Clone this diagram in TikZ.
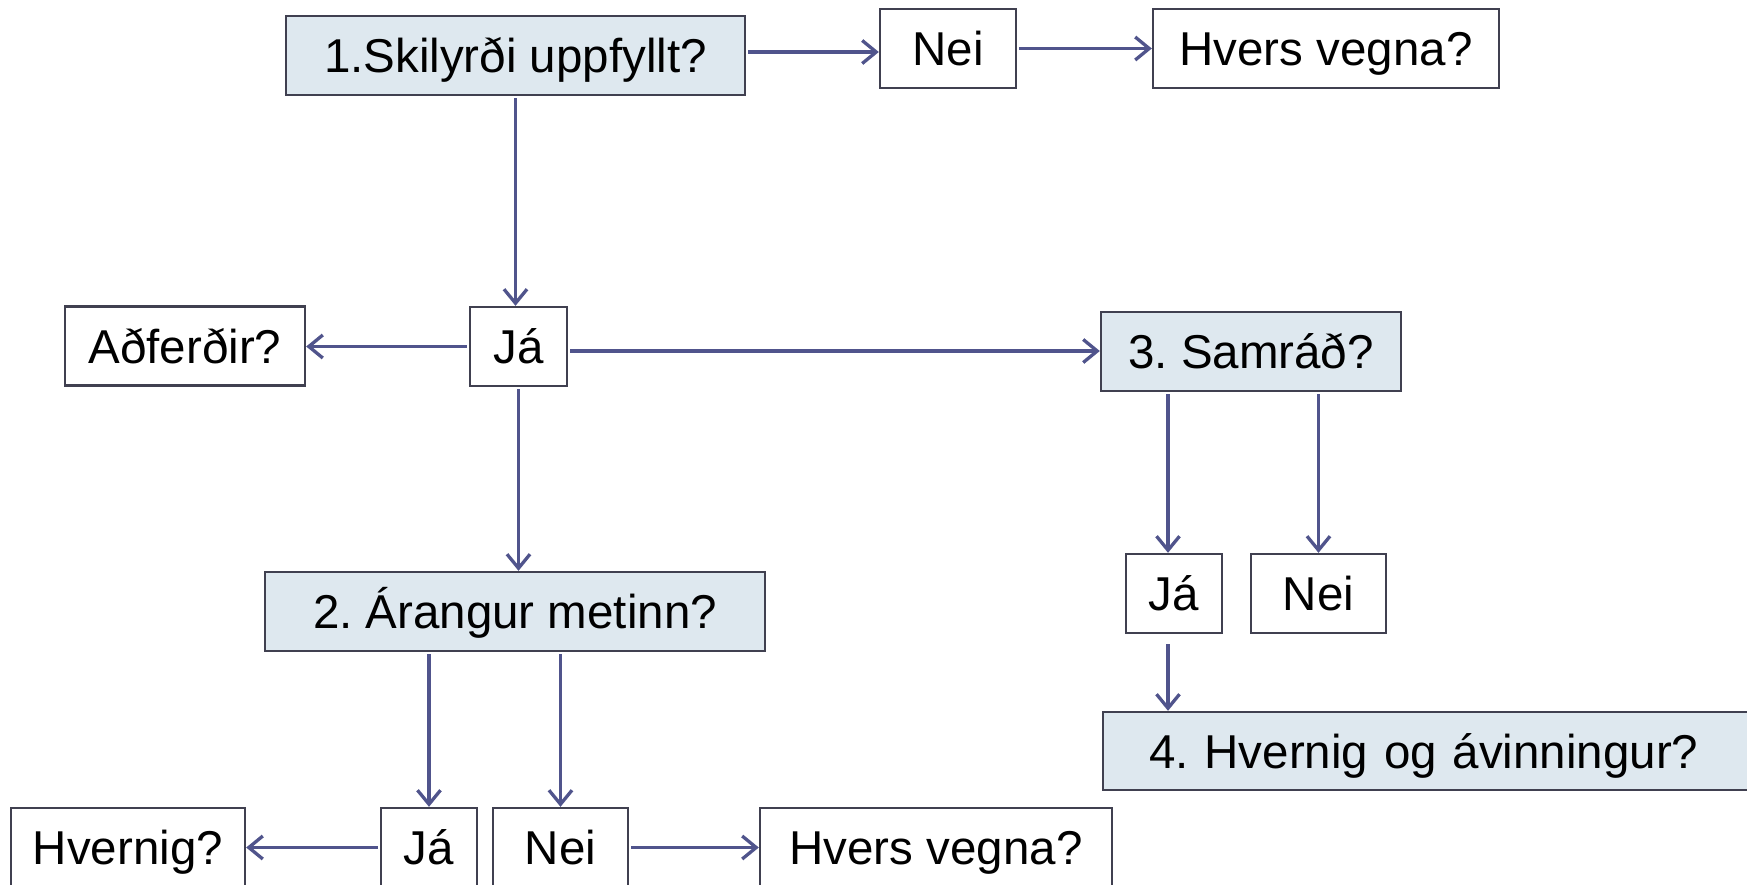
\documentclass[tikz,border=0pt]{standalone}
\usepackage{fontspec}
\setmainfont{Liberation Sans}
\usetikzlibrary{arrows.meta,calc}
\definecolor{boxfill}{RGB}{222,232,239}
\definecolor{boxline}{RGB}{64,64,80}
\definecolor{arrc}{RGB}{80,84,140}
\frenchspacing
\begin{document}
\begin{tikzpicture}[x=1pt,y=-1pt,
  plainbox/.style={draw=boxline,line width=2.4pt,fill=white,inner sep=0pt,
    minimum height=79pt,text height=34pt,text depth=0pt,
    font=\fontsize{47.5}{57}\selectfont\frenchspacing,text=black},
  fillbox/.style={plainbox,fill=boxfill},
  arr/.style={draw=arrc,line width=3.3pt,-{Straight Barb[length=14pt,width=23pt]},shorten <=2pt}]
\useasboundingbox (0,0) rectangle (1747,884);
\clip (0,0) rectangle (1747,884);
\fill[white] (0,0) rectangle (1747,884);
% row 1
\node[fillbox,minimum width=459pt] (s1) at (515.5,55.5) {1.Skilyrði uppfyllt?};
\node[plainbox,minimum width=136pt] (nei1) at (948,48.5) {Nei};
\node[plainbox,minimum width=346pt] (hv1) at (1326,48.5) {Hvers vegna?};
% row 2
\node[plainbox,minimum width=97pt] (ja1) at (518.5,346.5) {Já};
\node[plainbox,minimum width=240pt] (adf) at (185,346) {Aðferðir?};
\node[fillbox,minimum width=300pt] (s3) at (1251,351.5) {3. Samráð?\hspace{14pt}};
% row 3
\node[fillbox,minimum width=500pt] (s2) at (515,611.5) {2. Árangur metinn?};
\node[plainbox,minimum width=96pt] (ja3) at (1174,593.5) {Já};
\node[plainbox,minimum width=135pt] (nei3) at (1318.5,593.5) {Nei};
% row 4
\node[fillbox,anchor=west,minimum height=78pt,text width=700pt,align=left,inner xsep=46pt] (s4) at (1102,751) {4. Hvernig og ávinningur?};
% row 5
\node[plainbox,minimum width=96pt] (ja2) at (429,847.5) {Já};
\node[plainbox,minimum width=135pt] (nei2) at (560.5,847.5) {Nei};
\node[plainbox,minimum width=234pt] (hvernig) at (128,847.5) {Hvernig?};
\node[plainbox,minimum width=352pt] (hv2) at (936,847.5) {Hvers vegna?};
% anchor helpers
\coordinate (j3top) at ([xshift=-6pt]ja3.north);
\coordinate (j3bot) at ([xshift=-6pt,yshift=-8pt]ja3.south);
% connectors
\draw[arr] ([yshift=3.5pt]s1.east) -- ([yshift=3.5pt]s1.east -| nei1.west);
\draw[arr] (nei1.east) -- (hv1.west);
\draw[arr] (s1.south) -- (s1.south |- ja1.north);
\draw[arr] (ja1.west) -- (ja1.west -| adf.east);
\draw[arr] ([yshift=-4.5pt]ja1.east) -- ([yshift=-4.5pt]ja1.east -| s3.west);
\draw[arr] (ja1.south) -- (ja1.south |- s2.north);
\draw[arr] (s2.south -| ja2.north) -- (ja2.north);
\draw[arr] (s2.south -| nei2.north) -- (nei2.north);
\draw[arr] (ja2.west) -- (ja2.west -| hvernig.east);
\draw[arr] (nei2.east) -- (nei2.east -| hv2.west);
\draw[arr] (s3.south -| j3top) -- (j3top);
\draw[arr] (s3.south -| nei3.north) -- (nei3.north);
\draw[arr] (j3bot) -- (j3bot |- s4.north);
\end{tikzpicture}
\end{document}
